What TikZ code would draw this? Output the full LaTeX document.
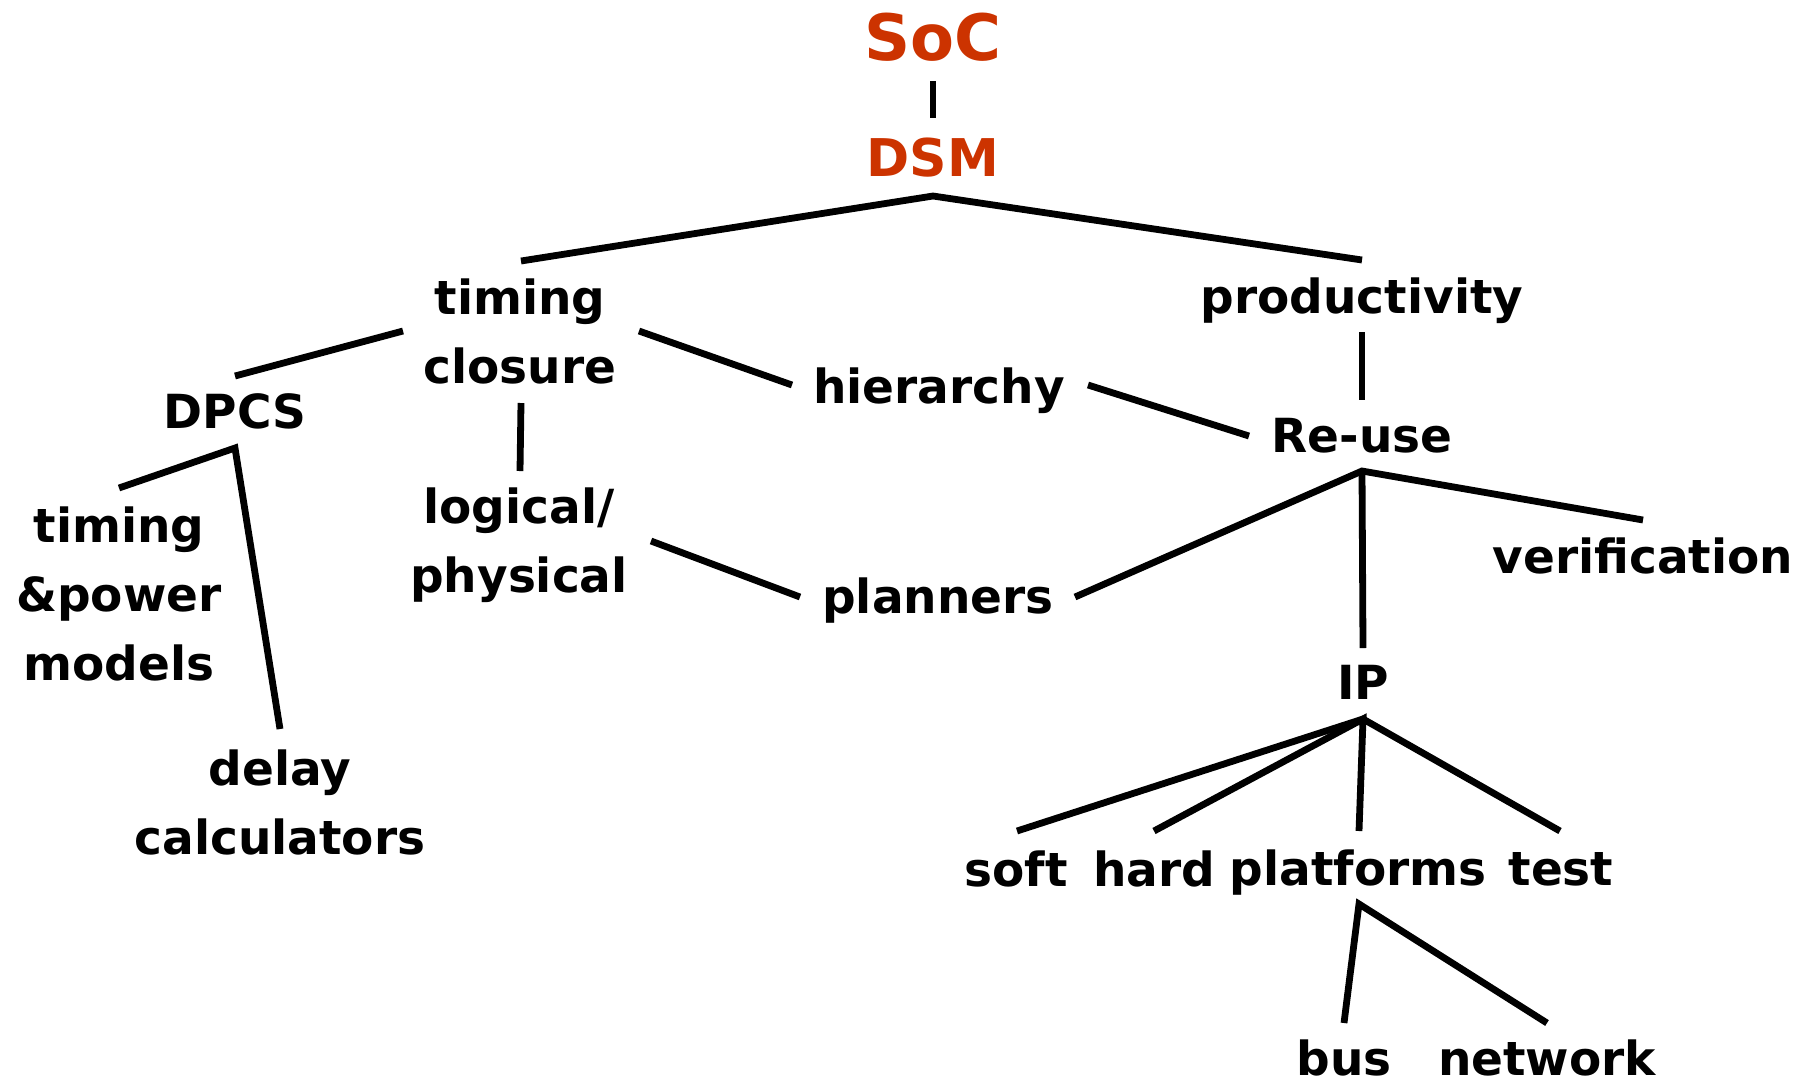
\documentclass[tikz,border=0pt]{standalone}
\usepackage{fontspec}
\setmainfont{DejaVu Sans}
\usetikzlibrary{calc}
\definecolor{socred}{RGB}{204,51,0}
\tikzset{
  lbl/.style={font=\fontsize{23.5}{34.5}\selectfont\bfseries, align=center, inner sep=0pt},
  toplbl/.style={lbl, text=socred},
  ln/.style={line width=3.4pt},
}

\begin{document}
\begin{tikzpicture}[x=0.5pt,y=-0.5pt]
\useasboundingbox (0,0) rectangle (1804,1083);

% labels
\node[toplbl, font=\fontsize{32}{36}\selectfont\bfseries] (soc) at (933,37) {SoC};
\node[toplbl, font=\fontsize{26}{34}\selectfont\bfseries] (dsm) at (933,158) {DSM};

\node[lbl] (timing) at (520,331) {timing\\closure};
\node[lbl] (prod) at (1362,301) {productivity};
\node[lbl] (dpcs) at (235,411) {DPCS};
\node[lbl] (hier) at (939,391) {hierarchy};
\node[lbl] (reuse) at (1362,436) {Re-use};
\node[lbl] (logic) at (519,545) {logical/\\physical};
\node[lbl] (plan) at (938,601) {planners};
\node[lbl] (verif) at (1643,556) {verification};
\node[lbl] (ip) at (1363,682) {IP};
\node[lbl] (tpm) at (119,594) {timing\\\&power\\models};
\node[lbl] (delay) at (280,802) {delay\\calculators};

\node[lbl] (soft) at (1016,869) {soft};
\node[lbl] (hard) at (1154,869) {hard};
\node[lbl] (plat) at (1358,873) {platforms};
\node[lbl] (test) at (1561,869) {test};
\node[lbl] (bus) at (1344,1058) {bus};
\node[lbl] (net) at (1547,1058) {network};

% forks
\coordinate (dsmfork) at ($(dsm)+(0,38)$);
\coordinate (dpcsfork) at ($(dpcs)+(0,37)$);
\coordinate (reusefork) at ($(reuse)+(0,35)$);
\coordinate (ipfork) at ($(ip)+(0,37)$);
\coordinate (platfork) at ($(plat)+(1,31)$);

% lines
\draw[ln] ($(soc)+(0,44)$) -- ($(dsm)+(0,-40)$);
\draw[ln] ($(timing)+(1,-70)$) -- (dsmfork) -- ($(prod)+(0,-41)$);

\draw[ln] ($(timing)+(-117,0)$) -- ($(dpcs)+(0,-35)$);
\draw[ln] ($(timing)+(119,0)$) -- ($(hier)+(-147,-6)$);
\draw[ln] ($(hier)+(149,-6)$) -- ($(reuse)+(-113,0)$);
\draw[ln] ($(prod)+(0,31)$) -- ($(reuse)+(0,-36)$);
\draw[ln] ($(timing)+(1,72)$) -- ($(logic)+(1,-74)$);
\draw[ln] ($(logic)+(132,-4)$) -- ($(plan)+(-138,-4)$);

\draw[ln] ($(tpm)+(0,-106)$) -- (dpcsfork) -- ($(delay)+(0,-73)$);

\draw[ln] ($(plan)+(137,-4)$) -- (reusefork) -- ($(verif)+(0,-36)$);
\draw[ln] (reusefork) -- ($(ip)+(0,-34)$);

\draw[ln] ($(soft)+(1,-38)$) -- (ipfork) -- ($(test)+(-1,-38)$);
\draw[ln] ($(hard)+(0,-38)$) -- (ipfork) -- ($(plat)+(1,-42)$);

\draw[ln] ($(bus)+(0,-35)$) -- (platfork) -- ($(net)+(0,-35)$);

\end{tikzpicture}
\end{document}
